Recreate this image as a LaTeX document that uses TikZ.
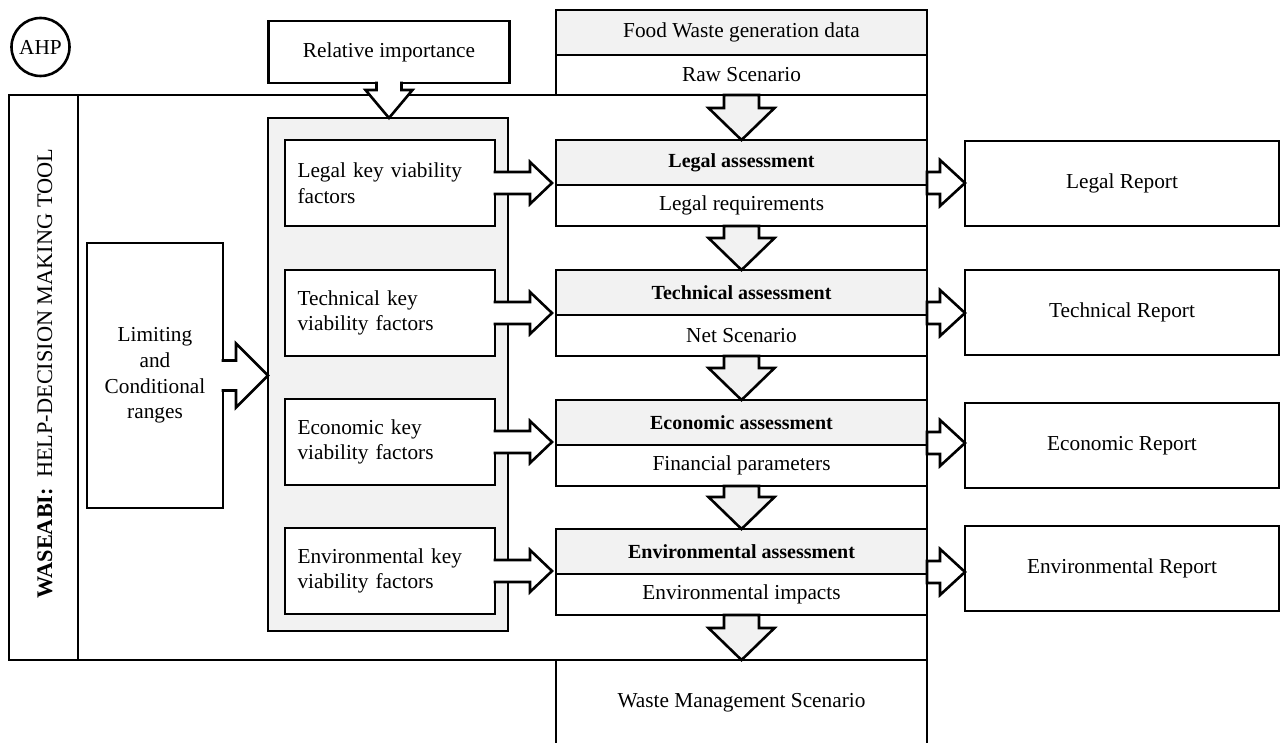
\documentclass[tikz,border=0pt]{standalone}
\usepackage{fontspec}
\setmainfont{Liberation Serif}
\usetikzlibrary{calc}
\definecolor{lightg}{RGB}{242,242,242}
\newcommand\LW{2.6pt}
\newcommand\BoldTitle[1]{{\fontsize{20}{25.5}\selectfont\bfseries #1}}
\tikzset{
  every node/.style={font=\fontsize{21.3}{25.7}\selectfont, outer sep=0pt},
  box/.style={draw, line width=\LW, fill=white, inner sep=0pt, line join=miter},
  graybox/.style={box, fill=lightg},
  keybox/.style={box, minimum height=86pt, text width=185pt, inner xsep=12.5pt, align=left},
  whitearrow/.style={draw, line width=\LW, fill=white, line join=miter},
  grayarrow/.style={draw, line width=\LW, fill=lightg, line join=miter},
}
% horizontal block arrow: start, tip, shaft half, head half, head length, style, closing
\newcommand\HBlock[7]{\path[#6] let \p1=(#1), \p2=(#2) in
  (\x1,\y1+#3pt) -- (\x2-#5pt,\y1+#3pt) -- (\x2-#5pt,\y1+#4pt) -- (\x2,\y1)
  -- (\x2-#5pt,\y1-#4pt) -- (\x2-#5pt,\y1-#3pt) -- (\x1,\y1-#3pt) #7;}
% vertical (downward) block arrow
\newcommand\VBlock[7]{\path[#6] let \p1=(#1), \p2=(#2) in
  (\x1-#3pt,\y1) -- (\x1-#3pt,\y2+#5pt) -- (\x1-#4pt,\y2+#5pt) -- (\x1,\y2)
  -- (\x1+#4pt,\y2+#5pt) -- (\x1+#3pt,\y2+#5pt) -- (\x1+#3pt,\y1) #7;}
\begin{document}
\begin{tikzpicture}[x=1pt,y=-1pt]
\useasboundingbox (0,0) rectangle (1282,743);
\clip (0,0) rectangle (1282,743);
\fill[white] (0,0) rectangle (1282,743);

% AHP
\node[draw, circle, line width=\LW, minimum size=58pt, inner sep=0pt] (ahp) at (40.5,47) {AHP};

% main frame
\node[box, minimum width=918pt, minimum height=565pt] (frame) at (468,377.5) {};
\node[box, minimum width=69pt, minimum height=565pt] (strip) at (43.5,377.5) {};
\node[rotate=90, inner sep=0pt, font=\fontsize{22.3}{26}\selectfont] (title) at (45,373.5) {\textbf{WASEABI:}\hspace{0.45em}HELP-DECISION MAKING TOOL};

% top inputs
\node[box, minimum width=241pt, minimum height=62pt] (rel) at (389,52) {Relative importance};
\node[graybox, minimum width=371pt, minimum height=45pt] (fw) at (741.5,32.5) {Food Waste generation data};
\node[box, minimum width=371pt, minimum height=40pt] (raw) at (741.5,75) {Raw Scenario};

% limiting ranges
\node[box, minimum width=136pt, minimum height=265pt, align=center] (lim) at (155,375.5) {Limiting\\and\\Conditional\\ranges};

% key viability factors
\node[graybox, minimum width=240pt, minimum height=513pt] (gbox) at (388,374.5) {};
\node[keybox] (lk) at (390,183) {Legal key viability\\factors};
\node[keybox] (tk) at (390,313) {Technical key\\viability factors};
\node[keybox] (ek) at (390,442) {Economic key\\viability factors};
\node[keybox] (vk) at (390,571) {Environmental key\\viability factors};

% assessments
\node[graybox, minimum width=371pt, minimum height=45pt] (lat) at (741.5,162.5) {\BoldTitle{Legal assessment}};
\node[box, minimum width=371pt, minimum height=41pt] (lab) at (741.5,205.5) {Legal requirements};
\node[graybox, minimum width=371pt, minimum height=45pt] (tat) at (741.5,292.5) {\BoldTitle{Technical assessment}};
\node[box, minimum width=371pt, minimum height=41pt] (tab) at (741.5,335.5) {Net Scenario};
\node[graybox, minimum width=371pt, minimum height=45pt] (eat) at (741.5,422.5) {\BoldTitle{Economic assessment}};
\node[box, minimum width=371pt, minimum height=41pt] (eab) at (741.5,465.5) {Financial parameters};
\node[graybox, minimum width=371pt, minimum height=45pt] (vat) at (741.5,551.5) {\BoldTitle{Environmental assessment}};
\node[box, minimum width=371pt, minimum height=41pt] (vab) at (741.5,594.5) {Environmental impacts};

% output
\node[box, minimum width=371pt, minimum height=100pt] (wms) at (741.5,710) {};
\node[inner sep=0pt] (wmst) at (741.5,703) {Waste Management Scenario};

% reports
\node[box, minimum width=314pt, minimum height=85pt] (lr) at (1122,183.5) {Legal Report};
\node[box, minimum width=314pt, minimum height=85pt] (tr) at (1122,312.5) {Technical Report};
\node[box, minimum width=314pt, minimum height=85pt] (er) at (1122,445.5) {Economic Report};
\node[box, minimum width=314pt, minimum height=85pt] (vr) at (1122,568.5) {Environmental Report};

% arrows: relative importance and limiting ranges
\VBlock{$(rel.south)+(0,-1.4)$}{gbox.north}{12.5}{23.5}{28}{whitearrow}{}
\HBlock{$(lim.east)+(-1.4,0)$}{gbox.west}{15}{32}{32}{whitearrow}{}

% arrows: key factors to assessments
\HBlock{$(lk.east)+(-1.4,0)$}{$(lat.west)+(-4,0)$}{11}{21}{22}{whitearrow}{}
\HBlock{$(tk.east)+(-1.4,0)$}{$(tat.west)+(-4,0)$}{11}{21}{22}{whitearrow}{}
\HBlock{$(ek.east)+(-1.4,0)$}{$(eat.west)+(-4,0)$}{11}{21}{22}{whitearrow}{}
\HBlock{$(vk.east)+(-1.4,0)$}{$(vat.west)+(-4,0)$}{11}{21}{22}{whitearrow}{}

% arrows: flow down the assessments
\VBlock{raw.south}{lat.north}{17.5}{33}{32}{grayarrow}{-- cycle}
\VBlock{lab.south}{tat.north}{17.5}{33}{32}{grayarrow}{-- cycle}
\VBlock{tab.south}{eat.north}{17.5}{33}{32}{grayarrow}{-- cycle}
\VBlock{eab.south}{vat.north}{17.5}{33}{32}{grayarrow}{-- cycle}
\VBlock{vab.south}{wms.north}{17.5}{33}{32}{grayarrow}{-- cycle}

% arrows: assessments to reports
\HBlock{$(lat.south east)+(0,-2)$}{lr.west}{11}{23}{25}{whitearrow}{-- cycle}
\HBlock{$(tat.south east)+(0,-2)$}{tr.west}{11}{23}{25}{whitearrow}{-- cycle}
\HBlock{$(eat.south east)+(0,-2)$}{er.west}{11}{23}{25}{whitearrow}{-- cycle}
\HBlock{$(vat.south east)+(0,-2)$}{vr.west}{11}{23}{25}{whitearrow}{-- cycle}
\end{tikzpicture}
\end{document}
